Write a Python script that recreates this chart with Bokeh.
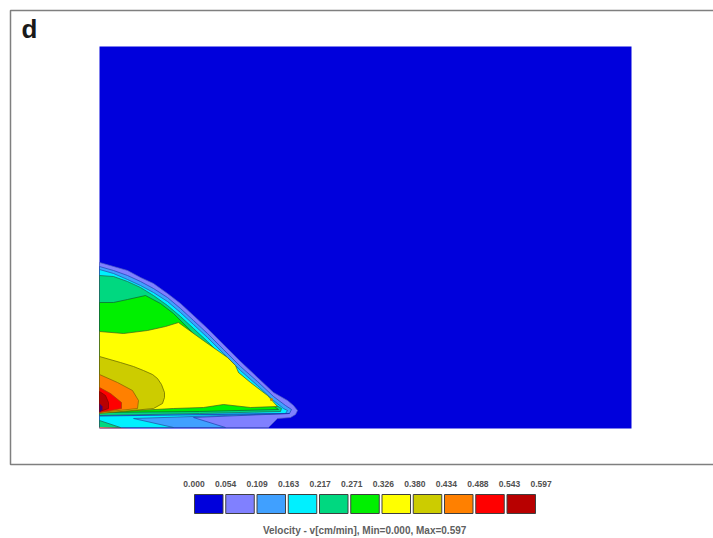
from bokeh.plotting import figure
from bokeh.models import Range1d, Label
from bokeh.embed import file_html
from bokeh.resources import INLINE

# Velocity levels and their colours
levels = ["0.000", "0.054", "0.109", "0.163", "0.217", "0.271", "0.326", "0.380", "0.434", "0.488", "0.543", "0.597"]
band_colors = ["#0000dc", "#8080ff", "#40a0ff", "#00f0ff", "#00d880", "#00f000", "#ffff00", "#cccc00", "#ff8000", "#ff0000", "#b80000"]
caption = "Velocity  - v[cm/min], Min=0.000, Max=0.597"
panel = "d"

# Domain size (same units as the contours)
domain_w = 532
domain_h = 382

# Contour outlines
c1_x = [0, 14, 28, 41, 54, 68, 81, 94, 108, 124, 141, 158, 174, 188, 194, 198, 196, 191, 178, 171, 169, 0]
c1_y = [166, 162, 158, 151, 145, 135, 125, 113, 100, 84, 67, 51, 36, 28, 23, 18, 14, 11, 10, 3, 1, 1]
c2_x = [0, 14, 28, 41, 54, 68, 81, 94, 108, 124, 141, 158, 174, 186, 192, 190, 94, 126, 0]
c2_y = [162, 158, 153, 147, 140, 131, 120, 108, 95, 79, 62, 47, 32, 23, 19, 15, 11, 1, 1]
c3_x = [0, 14, 28, 41, 54, 68, 81, 94, 108, 124, 141, 158, 174, 184, 188, 186, 34, 74, 0]
c3_y = [159, 155, 149, 143, 136, 127, 116, 104, 91, 75, 58, 43, 28, 20, 18, 15, 10, 1, 1]
c4_x = [0, 14, 28, 41, 54, 68, 81, 94, 108, 124, 141, 158, 174, 182, 181, 100, 0]
c4_y = [153, 152, 147, 141, 133, 123, 112, 100, 87, 71, 54, 39, 25, 20, 17, 15, 13]
c4b_x = [0, 21, 0]
c4b_y = [8, 1, 1]
c5_x = [0, 14, 28, 46, 61, 74, 91, 108, 124, 135, 148, 171, 179, 100, 0]
c5_y = [126, 126, 129, 133, 125, 115, 98, 81, 66, 55, 43, 25, 19, 17, 16]
c6_x = [0, 24, 48, 66, 79, 101, 128, 136, 139, 151, 168, 178, 151, 124, 104, 74, 0]
c6_y = [97, 95, 98, 102, 106, 90, 71, 63, 56, 46, 33, 22, 21, 24, 21, 20, 16]
c7_x = [0, 21, 34, 44, 53, 58, 62, 65, 65, 63, 54, 0]
c7_y = [72, 66, 62, 58, 54, 50, 44, 36, 31, 25, 20, 15]
c8_x = [0, 18, 33, 39, 38, 0]
c8_y = [54, 46, 38, 28, 20, 16]
c9_x = [0, 11, 22, 22, 0]
c9_y = [41, 35, 26, 20, 16]
c10_x = [0, 6, 9, 9, 0]
c10_y = [37, 33, 26, 20, 17]
spot_x = [0, 3, 3, 0]
spot_y = [25, 22, 19, 16]
sliver_x = [0, 32, 0]
sliver_y = [1.5, 0, 0]
seam_x = [0, 190]
seam_y = [12.5, 15]
dot_x = [172]
dot_y = [29]

contours = [
    (c1_x, c1_y, 1, "#5060c0"), (c2_x, c2_y, 2, "#2040b0"), (c3_x, c3_y, 3, "#2050a0"),
    (c4_x, c4_y, 4, "#206050"), (c4b_x, c4b_y, 4, "#206050"), (c5_x, c5_y, 5, "#106030"),
    (c6_x, c6_y, 6, "#406020"), (c7_x, c7_y, 7, "#606000"), (c8_x, c8_y, 8, "#806000"),
    (c9_x, c9_y, 9, "#a04000"), (c10_x, c10_y, 10, "#800000"),
]

LEFT, RIGHT, TOP, BOTTOM = 99, 82, 46, 110
W, H = LEFT + domain_w + RIGHT, TOP + domain_h + BOTTOM

p = figure(width=W, height=H, output_backend="svg", toolbar_location=None,
           x_range=Range1d(-LEFT, domain_w + RIGHT), y_range=Range1d(-BOTTOM, domain_h + TOP),
           min_border=0, outline_line_color=None, background_fill_color="white")
p.axis.visible = False
p.grid.visible = False

# outer frame (runs off the right side of the page)
p.quad(left=[-89], right=[domain_w + RIGHT + 20], bottom=[-36], top=[domain_h + 36],
       fill_color=None, line_color="#7f7f7f", line_width=1.5)
p.add_layout(Label(x=-78, y=domain_h + 3, text=panel, text_font="Liberation Sans",
                   text_font_style="bold", text_font_size="26px", text_color="#1a1a1a"))

# base band and nested contour bands
p.quad(left=[0], right=[domain_w], bottom=[0], top=[domain_h], fill_color=band_colors[0], line_color=None)
for xs, ys, idx, edge in contours:
    p.patch(xs, ys, fill_color=band_colors[idx], line_color=edge, line_alpha=0.7, line_width=1)
p.line(seam_x, seam_y, line_color="#2030b0", line_width=1.2, line_alpha=0.8)
p.patch(spot_x, spot_y, fill_color="#400070", line_color=None)
p.patch(sliver_x, sliver_y, fill_color="#e07060", line_color=None)
p.scatter(dot_x, dot_y, size=3, fill_color="#c08000", line_color=None)

# colour key
key_left0 = 95
key_pitch = 31.25
key_w = 28.5
n = len(band_colors)
p.quad(left=[key_left0 + i * key_pitch for i in range(n)],
       right=[key_left0 + i * key_pitch + key_w for i in range(n)],
       bottom=[-85] * n, top=[-66] * n,
       fill_color=band_colors, line_color="#404040", line_width=1)
for i, t in enumerate(levels):
    p.add_layout(Label(x=94.5 + i * 31.55, y=-55.5, text=t, text_font="Liberation Sans",
                       text_font_size="8.5px", text_font_style="bold", text_color="#505050",
                       text_align="center", text_baseline="middle"))
p.add_layout(Label(x=266.5, y=-102, text=caption, text_font="Liberation Sans", text_font_size="10px",
                   text_font_style="bold", text_color="#606060", text_align="center", text_baseline="middle"))

open("out.html", "w").write(file_html(p, INLINE))
